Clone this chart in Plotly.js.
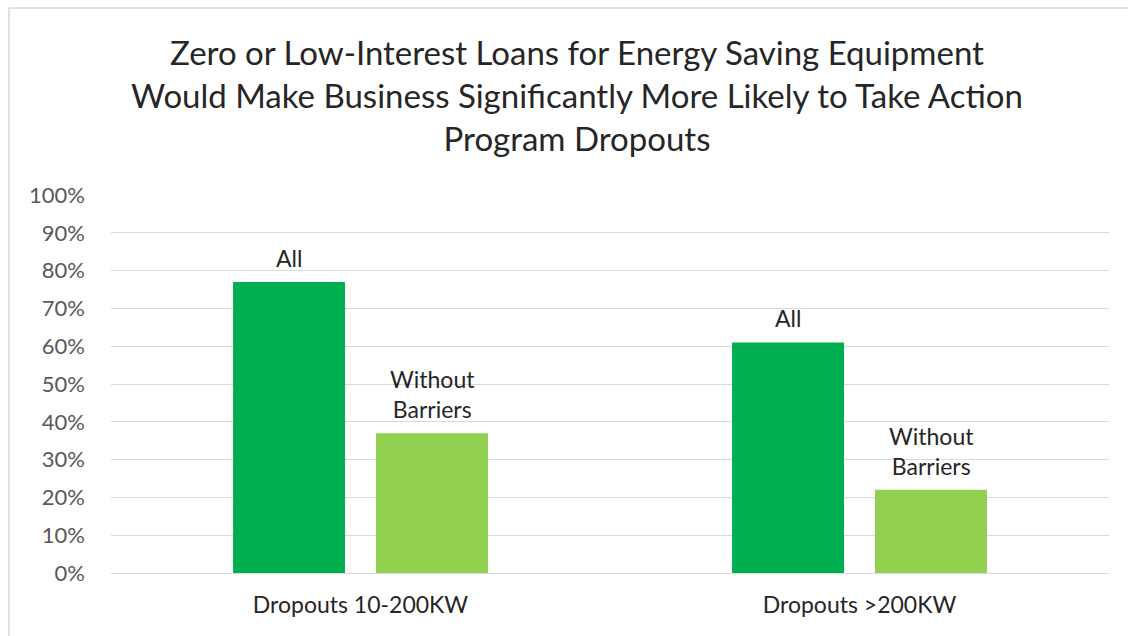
<!DOCTYPE html>
<html>
<head>
<meta charset="utf-8">
<script src="https://cdn.plot.ly/plotly-3.0.1.min.js"></script>
<style>
  html, body { margin: 0; padding: 0; background: #ffffff; }
  #chart { width: 1128px; height: 636px; }
</style>
</head>
<body>
<div id="chart"></div>
<script>
// ---- Data ----
const categories = ['Dropouts 10-200KW', 'Dropouts >200KW'];
const allValues = [0.77, 0.61];
const withoutBarriersValues = [0.37, 0.22];
const seriesNames = ['All', 'Without Barriers'];
const seriesLabels = ['All', 'Without<br>Barriers'];
const chartTitle = 'Zero or Low-Interest Loans for Energy Saving Equipment<br>Would Make Business Significantly More Likely to Take Action<br>Program Dropouts';

const FONT = 'Lato, "Open Sans", sans-serif';
const colors = ['#00b050', '#92d050'];

const traces = [
  { type: 'bar', name: seriesNames[0], x: categories, y: allValues,
    marker: { color: colors[0] }, hoverinfo: 'skip' },
  { type: 'bar', name: seriesNames[1], x: categories, y: withoutBarriersValues,
    marker: { color: colors[1] }, hoverinfo: 'skip' }
];

// Data labels above bars, positioned via data coordinates
const groupOffset = 71.5;
const annotations = [];
[allValues, withoutBarriersValues].forEach((vals, s) => {
  vals.forEach((v, i) => {
    annotations.push({
      x: categories[i], y: v, xref: 'x', yref: 'y',
      text: seriesLabels[s], showarrow: false,
      xanchor: 'center', yanchor: 'bottom',
      xshift: s === 0 ? -groupOffset : groupOffset, yshift: 8,
      font: { family: FONT, size: 23, color: '#262626' }
    });
  });
});

const layout = {
  width: 1128, height: 636,
  margin: { l: 111, r: 19, t: 195, b: 63, pad: 0 },
  paper_bgcolor: '#ffffff', plot_bgcolor: '#ffffff',
  showlegend: false,
  barmode: 'group',
  bargap: 0.427,
  bargroupgap: 0.217,
  title: {
    text: chartTitle,
    x: 577 / 1128, xref: 'container', xanchor: 'center',
    y: 1 - 65 / 636, yref: 'container', yanchor: 'top',
    font: { family: FONT, size: 33, color: '#262626' }
  },
  xaxis: {
    type: 'category',
    showgrid: false, zeroline: false, showline: false,
    ticks: '', ticklabelstandoff: 16,
    tickfont: { family: FONT, size: 23, color: '#262626' }
  },
  yaxis: {
    range: [0, 1.0001],
    dtick: 0.1, tick0: 0,
    tickformat: '.0%',
    showgrid: true, gridcolor: '#d9d9d9', gridwidth: 1,
    zeroline: true, zerolinecolor: '#d9d9d9', zerolinewidth: 1,
    showline: false, ticks: '', ticklabelstandoff: 25,
    tickfont: { family: FONT, size: 22, color: '#595959' }
  },
  annotations: annotations,
  shapes: [
    { type: 'rect', xref: 'paper', yref: 'paper',
      x0: (9 - 111) / 998, x1: 1.2,
      y0: -0.5, y1: (573 - 8) / 378,
      line: { color: '#d9d9d9', width: 1.5 }, fillcolor: 'rgba(0,0,0,0)', layer: 'below' }
  ]
};

Plotly.newPlot('chart', traces, layout, { displayModeBar: false, staticPlot: true });
</script>
</body>
</html>
